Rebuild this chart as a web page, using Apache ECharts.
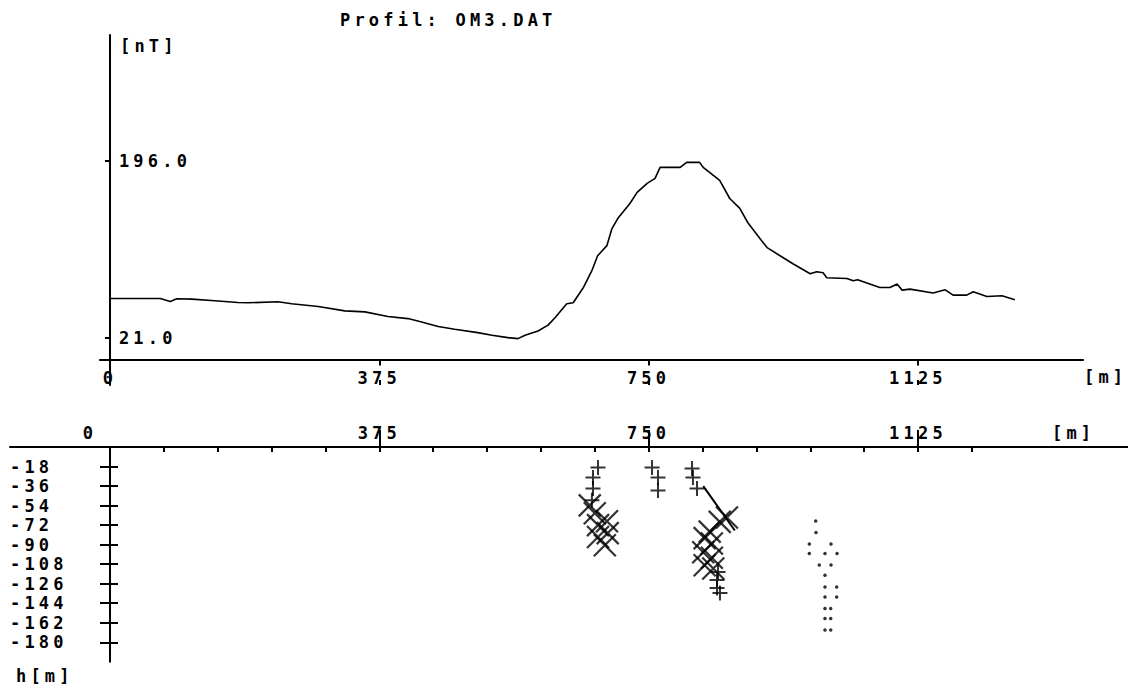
<!DOCTYPE html>
<html><head><meta charset="utf-8">
<script src="https://cdn.jsdelivr.net/npm/echarts@6/dist/echarts.min.js"></script>
<style>
html,body{margin:0;padding:0;background:#fff;}
#chart{width:1128px;height:689px;}
#chart text{letter-spacing:4.2px;}
</style></head><body><div id="chart"></div>
<script>
// ---- data ----
const profileDist = [0,70,84,93,114,146,178,192,234,253,290,327,355,387,415,434,457,480,512,532,554,568,578,596,610,620,636,645,659,671,679,692,699,707,724,734,748,759,766,784,794,803,821,826,849,863,877,888,905,915,933,951,975,984,993,998,1026,1035,1041,1054,1072,1086,1096,1103,1114,1146,1163,1174,1193,1202,1221,1242,1260];
const profileField = [60.2,60.2,57.3,60,59.6,58,56.3,56,57,55,52.3,48,47,42.4,40.4,37.1,32.5,29.9,26.5,24,21.6,20.6,24,28.2,33.9,41.4,55,56,70.8,87.7,102.5,112.5,129.3,139.2,154.1,165,173.9,178.9,189.8,189.8,189.8,194.7,194.7,189.8,176.9,159,149.2,135.3,119.4,110.5,102.5,94.6,84.7,86.7,85.7,80.7,80,77.8,78.8,75.5,71.1,71.1,74.5,68.5,69.5,65.6,68.8,63.6,63.6,66.9,62.2,62.9,58.9];
const distTickLabels = [0,375,750,1125];
const fieldTickLabels = [21,196];
const distMinorTicks = [0,75,150,225,300,375,450,525,600,675,750,825,900,975,1050,1125,1200];
const depthTickLabels = [-18,-36,-54,-72,-90,-108,-126,-144,-162,-180];
const plusPts = [[679.5,-18.9],[672.5,-28.1],[672.5,-38.2],[671,-49.2],
  [754.7,-18.9],[763,-28.1],[763,-40],
  [810.4,-19.8],[811.7,-28.1],[817.3,-38.2],[846.6,-115.2],[845.2,-122.6],[845.2,-129.9],[849.3,-134.5]];
const crossPts = [[668,-53.8],[675,-61],[692,-68.4],[679.5,-72],[693,-79.4],[679.5,-83],[689,-90.5],
  [859,-65],[849,-69],[835,-78],[828,-84],[838,-89],[826,-97],[838,-102],[828,-109],[840,-112]];
const dotPts = [[982.6,-68.2],[983,-78.8],[973.7,-89.5],[1003.9,-89.5],[973.7,-98.1],[995.5,-98.1],[1012.3,-98.1],
  [987.6,-108.8],[1003.9,-108.8],[995.5,-118.3],[995.5,-129],[1011.8,-129],[995.5,-138.2],[1011.8,-138.2],
  [995.5,-148.9],[1003.5,-148.9],[995.5,-158.1],[1003.5,-158.1],[995.5,-168.7],[1003.5,-168.7]];
const linkPts = [[826,-36],[870,-77]];

// ---- chart ----
const FONT = 'DejaVu Sans Mono';
const lbl = {fontFamily: FONT, fontWeight: 'bold', fontSize: 17, color: '#000'};
const axisLineStyle = {color: '#000', width: 2};
const hiddenLine = {color: 'rgba(0,0,0,0)', width: 2};
const tickStyle = {color: '#000', width: 2};
const chart = echarts.init(document.getElementById('chart'), null, {renderer: 'svg'});

const option = {
  animation: false,
  backgroundColor: '#fff',
  title: {text: 'Profil: OM3.DAT', left: 340, top: 11, padding: 0, textStyle: Object.assign({}, lbl)},
  grid: [
    {left: 99.9, width: 983.2, top: 35, height: 350, outerBoundsMode: 'none', containLabel: false},
    {left: 10, right: 0, top: 447, height: 214.8, outerBoundsMode: 'none', containLabel: false}
  ],
  xAxis: [
    {gridIndex: 0, type: 'value', position: 'bottom', min: -14, max: 1355,
     axisLine: {onZero: true, lineStyle: axisLineStyle},
     axisTick: {show: true, customValues: [375, 750, 1125], length: 6, lineStyle: tickStyle},
     axisLabel: Object.assign({customValues: distTickLabels, margin: -16, formatter: v => String(v)}, lbl),
     splitLine: {show: false}},
    {gridIndex: 0, type: 'value', position: 'bottom', min: -14, max: 1355,
     axisLine: {show: true, onZero: true, lineStyle: hiddenLine},
     axisTick: {show: true, inside: true, customValues: [375, 750, 1125], length: 5, lineStyle: tickStyle},
     axisLabel: {show: false}, splitLine: {show: false}},
    {gridIndex: 1, type: 'value', position: 'top', min: -139.2, max: 1417.4,
     axisLine: {onZero: false, lineStyle: axisLineStyle},
     axisTick: {show: true, customValues: [375, 750, 1125], length: 17, lineStyle: tickStyle},
     axisLabel: Object.assign({customValues: distTickLabels, margin: 6,
       formatter: v => v === 0 ? '{z|0}' : String(v),
       rich: {z: Object.assign({padding: [0, 40, 0, 0]}, lbl)}}, lbl),
     splitLine: {show: false}},
    {gridIndex: 1, type: 'value', position: 'top', min: -139.2, max: 1417.4,
     axisLine: {show: false, onZero: false},
     axisTick: {show: true, inside: true, customValues: distMinorTicks, length: 5, lineStyle: tickStyle},
     axisLabel: {show: false}, splitLine: {show: false}}
  ],
  yAxis: [
    {gridIndex: 0, type: 'value', position: 'left', min: -25.2, max: 320.5,
     axisLine: {onZero: true, lineStyle: axisLineStyle},
     axisTick: {show: true, customValues: fieldTickLabels, length: 5, lineStyle: tickStyle},
     axisLabel: Object.assign({customValues: fieldTickLabels, inside: true, margin: 19,
       formatter: v => v.toFixed(1)}, lbl),
     splitLine: {show: false}},
    {gridIndex: 1, type: 'value', position: 'left', min: -198, max: 0,
     axisLine: {onZero: true, lineStyle: axisLineStyle},
     axisTick: {show: true, customValues: depthTickLabels, length: 10, lineStyle: tickStyle},
     axisLabel: Object.assign({customValues: depthTickLabels, align: 'left', margin: 0,
       formatter: v => String(v)}, lbl),
     splitLine: {show: false}},
    {gridIndex: 1, type: 'value', position: 'left', min: -198, max: 0,
     axisLine: {show: true, onZero: true, lineStyle: hiddenLine},
     axisTick: {show: true, inside: true, customValues: depthTickLabels, length: 8, lineStyle: tickStyle},
     axisLabel: {show: false}, splitLine: {show: false}}
  ],
  graphic: [
    {type: 'text', left: 120, top: 37, style: {text: '[nT]', font: 'bold 17px "DejaVu Sans Mono"', fill: '#000'}},
    {type: 'text', left: 1084, top: 368, style: {text: '[m]', font: 'bold 17px "DejaVu Sans Mono"', fill: '#000'}},
    {type: 'text', left: 1052, top: 424, style: {text: '[m]', font: 'bold 17px "DejaVu Sans Mono"', fill: '#000'}},
    {type: 'text', left: 16, top: 667, style: {text: 'h[m]', font: 'bold 17px "DejaVu Sans Mono"', fill: '#000'}}
  ],
  series: [
    {type: 'line', xAxisIndex: 0, yAxisIndex: 0, showSymbol: false,
     data: profileDist.map((d, i) => [d, profileField[i]]),
     lineStyle: {color: '#000', width: 1.6}},
    {type: 'scatter', xAxisIndex: 2, yAxisIndex: 1, data: plusPts,
     symbol: 'path://M10,0L10,20M0,10L20,10', symbolSize: 15,
     itemStyle: {color: 'transparent', borderColor: '#000', borderWidth: 2}},
    {type: 'scatter', xAxisIndex: 2, yAxisIndex: 1, data: crossPts,
     symbol: 'path://M0,0L20,20M0,20L20,0', symbolSize: 22,
     itemStyle: {color: 'transparent', borderColor: '#000', borderWidth: 2.2}},
    {type: 'scatter', xAxisIndex: 2, yAxisIndex: 1, data: dotPts,
     symbol: 'circle', symbolSize: 3.5, itemStyle: {color: '#000'}},
    {type: 'line', xAxisIndex: 2, yAxisIndex: 1, data: linkPts, showSymbol: false,
     lineStyle: {color: '#000', width: 2}}
  ]
};
chart.setOption(option);
</script></body></html>
